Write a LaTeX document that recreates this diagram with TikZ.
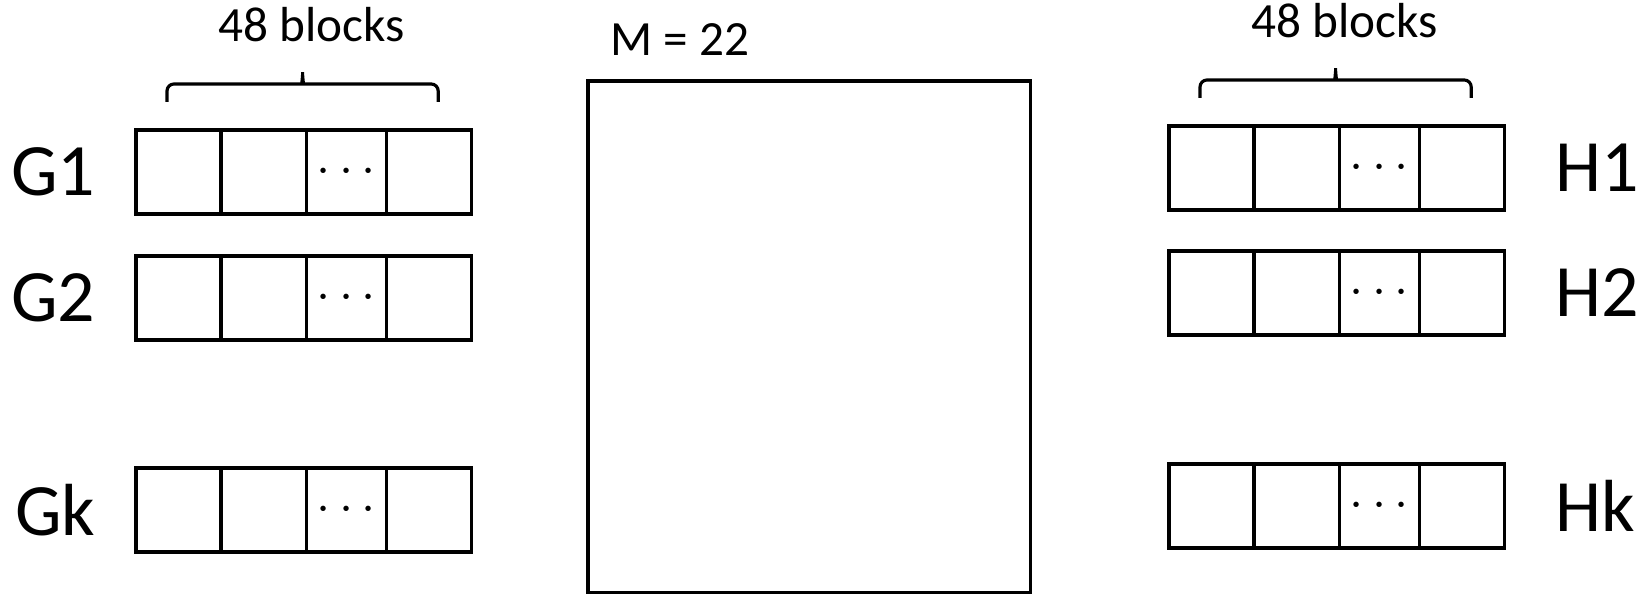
\documentclass[tikz,border=0pt]{standalone}
\usepackage{fontspec}
\setmainfont{Carlito}
\usetikzlibrary{positioning,calc}

\begin{document}
\begin{tikzpicture}[
        x=0.01cm, y=0.01cm,
        cell/.style={rectangle, draw, line width=0.9pt, minimum width=0.85cm, minimum height=0.84cm, inner sep=0pt, outer sep=0pt},
        narrow/.style={cell, minimum width=0.8cm, font=\fontsize{15}{18}\selectfont},
        rowlbl/.style={inner sep=0pt, font=\fontsize{21}{25}\selectfont},
        note/.style={inner sep=0pt, font=\fontsize{14}{17}\selectfont},
        bracket/.style={line width=0.9pt, rounded corners=0.07cm},
        bigbox/.style={rectangle, draw, line width=0.9pt, inner sep=0pt, outer sep=0pt},
    ]
    \useasboundingbox (0,0) rectangle (1640,-594);

    % === G rows (left) ===
    \node[cell, anchor=west] (g1a) at (136,-172) {};
    \node[cell, right=0pt of g1a] (g1b) {};
    \node[narrow, right=0pt of g1b] (g1c) {$\cdots$};
    \node[cell, right=0pt of g1c] (g1d) {};
    \node[rowlbl, left=0.4cm of g1a] (g1) {G1};

    \node[cell, anchor=west] (g2a) at (136,-298) {};
    \node[cell, right=0pt of g2a] (g2b) {};
    \node[narrow, right=0pt of g2b] (g2c) {$\cdots$};
    \node[cell, right=0pt of g2c] (g2d) {};
    \node[rowlbl, left=0.4cm of g2a] (g2) {G2};

    \node[cell, anchor=west] (gka) at (136,-510) {};
    \node[cell, right=0pt of gka] (gkb) {};
    \node[narrow, right=0pt of gkb] (gkc) {$\cdots$};
    \node[cell, right=0pt of gkc] (gkd) {};
    \node[rowlbl, left=0.4cm of gka] (gk) {Gk};

    % brace over G1
    \coordinate (gl) at ($(g1a.north west)+(31,28)$);
    \coordinate (gr) at ($(g1d.north east)+(-33,28)$);
    \coordinate (gtip) at ($(gl)!0.5!(gr)+(0,34)$);
    \draw[bracket] (gl) |- ($(gtip)+(-6,-16)$) to[out=0,in=-90] (gtip)
        to[out=-90,in=180] ($(gtip)+(6,-16)$) -| (gr);
    \node[note, anchor=base] (gnote) at ($(g1a.north west)!0.5!(g1d.north east)+(8,88)$) {48 blocks};

    % === M square (middle) ===
    \node[bigbox, minimum width=4.42cm, minimum height=5.11cm, anchor=north west] (mat) at (588,-81) {};
    \node[note, anchor=base west] (mlbl) at ($(mat.north west)+(22,26)$) {M = 22};

    % === H rows (right) ===
    \node[cell, anchor=west] (h1a) at (1169,-168) {};
    \node[cell, right=0pt of h1a] (h1b) {};
    \node[narrow, right=0pt of h1b] (h1c) {$\cdots$};
    \node[cell, right=0pt of h1c] (h1d) {};
    \node[rowlbl, right=0.51cm of h1d] (h1) {H1};

    \node[cell, anchor=west] (h2a) at (1169,-293) {};
    \node[cell, right=0pt of h2a] (h2b) {};
    \node[narrow, right=0pt of h2b] (h2c) {$\cdots$};
    \node[cell, right=0pt of h2c] (h2d) {};
    \node[rowlbl, right=0.51cm of h2d] (h2) {H2};

    \node[cell, anchor=west] (hka) at (1169,-506) {};
    \node[cell, right=0pt of hka] (hkb) {};
    \node[narrow, right=0pt of hkb] (hkc) {$\cdots$};
    \node[cell, right=0pt of hkc] (hkd) {};
    \node[rowlbl, right=0.51cm of hkd] (hk) {Hk};

    % brace over H1
    \coordinate (hl) at ($(h1a.north west)+(31,28)$);
    \coordinate (hr) at ($(h1d.north east)+(-33,28)$);
    \coordinate (htip) at ($(hl)!0.5!(hr)+(0,34)$);
    \draw[bracket] (hl) |- ($(htip)+(-6,-16)$) to[out=0,in=-90] (htip)
        to[out=-90,in=180] ($(htip)+(6,-16)$) -| (hr);
    \node[note, anchor=base] (hnote) at ($(h1a.north west)!0.5!(h1d.north east)+(8,88)$) {48 blocks};

\end{tikzpicture}
\end{document}
